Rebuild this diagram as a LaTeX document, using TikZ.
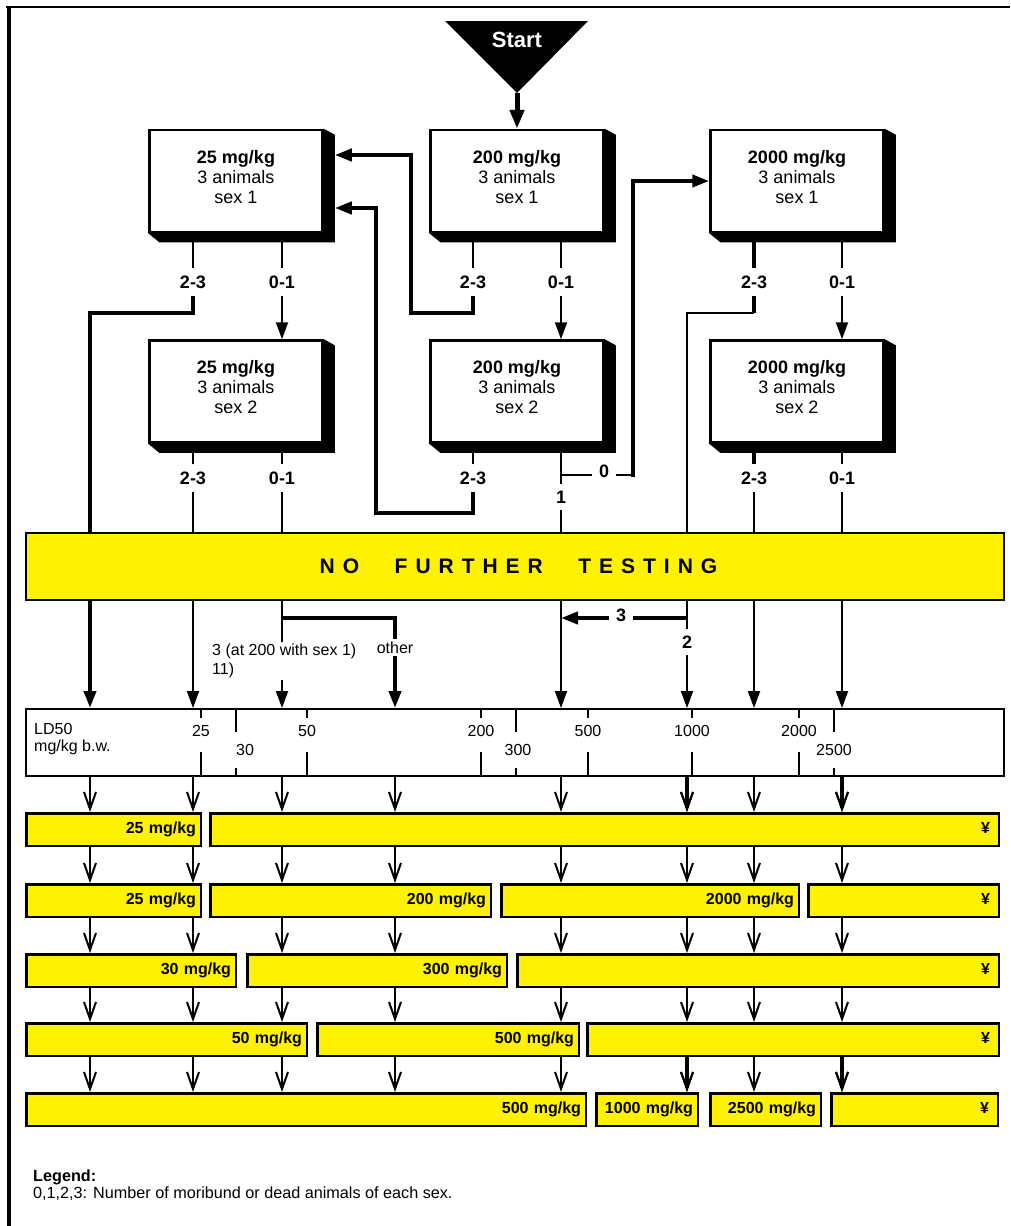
\documentclass[tikz,border=0pt]{standalone}
\usepackage{fontspec}
\setmainfont{Liberation Sans}
\newfontfamily\spacedfont{Liberation Sans}[LetterSpace=38]
\usepackage{tikz}
\usetikzlibrary{arrows.meta,positioning,calc,backgrounds}

\begin{document}
\begin{tikzpicture}[x=1pt,y=-1pt,
  dose/.style={draw,fill=white,line width=2.5pt,minimum width=173pt,minimum height=102pt,
    inner sep=0pt,align=center,text depth=9pt,font=\fontsize{18}{20}\selectfont},
  tally/.style={inner sep=7pt,font=\bfseries\fontsize{18}{20}\selectfont},
  note/.style={inner sep=2pt,font=\fontsize{16}{19}\selectfont},
  outcome/.style={draw,fill=yellow,line width=2.5pt,minimum height=32.5pt,inner sep=0pt,
    align=right,text height=12pt,text depth=3.5pt,font=\bfseries\fontsize{16}{18}\selectfont},
  link/.style={line width=2pt},
  heavy/.style={line width=4pt},
  arrowin/.style={-{Triangle[length=17pt,width=12pt]}},
  outarrow/.style={line width=2pt,-{Straight Barb[length=17pt,width=12pt,line width=2pt]}}]

% Frame
\useasboundingbox (0,0) rectangle (1011,1226);
\draw[line width=2pt] (6,7) -- (1010,7);
\draw[line width=3.5pt] (9,6) -- (9,1226);

% Start
\fill (445,21) -- (588,21) -- (517,93) -- cycle;
\node[text=white,font=\bfseries\fontsize{22}{24}\selectfont] (start) at (517,40) {Start};
\coordinate (apex) at (517,93);

% Dose groups, sex 1 and sex 2
\node[dose] (low1) at (236,181) {\textbf{25 mg/kg}\\3 animals\\sex 1};
\node[dose] (mid1) at (517,181) {\textbf{200 mg/kg}\\3 animals\\sex 1};
\node[dose] (high1) at (797,181) {\textbf{2000 mg/kg}\\3 animals\\sex 1};
\node[dose] (low2) at (236,391.5) {\textbf{25 mg/kg}\\3 animals\\sex 2};
\node[dose] (mid2) at (517,391.5) {\textbf{200 mg/kg}\\3 animals\\sex 2};
\node[dose] (high2) at (797,391.5) {\textbf{2000 mg/kg}\\3 animals\\sex 2};
\begin{scope}[on background layer]
\foreach \b in {low1,mid1,high1,low2,mid2,high2}
  \fill (\b.north east) -- ++(11,6) -- ($(\b.south east)+(11,9)$)
    -- ($(\b.south west)+(11,9)$) -- (\b.south west) -- cycle;
\end{scope}

% Number of dead animals
\node[tally] (low1many) at (193,282) {2-3};
\node[tally] (low1few) at (282,282) {0-1};
\node[tally] (mid1many) at (473,282) {2-3};
\node[tally] (mid1few) at (561,282) {0-1};
\node[tally] (high1many) at (754,282) {2-3};
\node[tally] (high1few) at (842,282) {0-1};
\node[tally] (low2many) at (193,478) {2-3};
\node[tally] (low2few) at (282,478) {0-1};
\node[tally] (mid2many) at (473,478) {2-3};
\node[tally] (high2many) at (754,478) {2-3};
\node[tally] (high2few) at (842,478) {0-1};
\node[tally] (zero) at (604,471) {0};
\node[tally] (one) at (561,497) {1};
\node[tally] (three) at (621,615) {3};
\node[tally] (two) at (687,642) {2};
\node[note] (other) at (395,647.5) {other};

% LD50 scale
\node[draw,line width=2pt,minimum width=978pt,minimum height=67pt] (ld) at (515,742.5) {};
\node[anchor=north west,align=left,inner sep=0pt,font=\fontsize{16}{17}\selectfont] (ldname) at (34,723.5) {LD50\\mg/kg b.w.};
\foreach \x/\v in {201/25, 307/50, 481/200, 588/500, 692/1000, 799/2000} {
  \draw[line width=2.5pt] (\x,708) -- (\x,718);
  \draw[line width=2.5pt] (\x,752) -- (\x,777);
  \node[note,anchor=base] (ld\v) at (\x,736) {\v};
}
\foreach \x/\lx/\v in {236/245/30, 516/518/300, 834/834/2500} {
  \draw[line width=2.5pt] (\x,708) -- (\x,732);
  \draw[line width=2.5pt] (\x,768) -- (\x,777);
  \node[note,anchor=base] (ld\v) at (\lx,755) {\v};
}
\foreach \i/\x in {1/90,2/193,3/282,4/395,5/561,6/687,7/754,8/842}
  \coordinate (col\i) at (\x,777);

% Classification rows
\node[outcome,minimum width=174.5pt,text width=165pt] (ra1) at (113.5,829.5) {25 mg/kg};
\node[outcome,minimum width=788.5pt,text width=771pt] (ra2) at (604.5,829.5) {¥};
\node[outcome,minimum width=174.5pt,text width=165pt] (rb1) at (113.5,900.5) {25 mg/kg};
\node[outcome,minimum width=280.5pt,text width=271pt] (rb2) at (350.5,900.5) {200 mg/kg};
\node[outcome,minimum width=297.5pt,text width=288pt] (rb3) at (650,900.5) {2000 mg/kg};
\node[outcome,minimum width=190.5pt,text width=173pt] (rb4) at (903.5,900.5) {¥};
\node[outcome,minimum width=209.5pt,text width=200pt] (rc1) at (131,970.5) {30 mg/kg};
\node[outcome,minimum width=259.5pt,text width=250pt] (rc2) at (377,970.5) {300 mg/kg};
\node[outcome,minimum width=481.5pt,text width=464pt] (rc3) at (758,970.5) {¥};
\node[outcome,minimum width=280.5pt,text width=271pt] (rd1) at (166.5,1039.5) {50 mg/kg};
\node[outcome,minimum width=261.5pt,text width=252pt] (rd2) at (448,1039.5) {500 mg/kg};
\node[outcome,minimum width=411.5pt,text width=394pt] (rd3) at (793,1039.5) {¥};
\node[outcome,minimum width=559.5pt,text width=550pt] (re1) at (306,1109.5) {500 mg/kg};
\node[outcome,minimum width=101.5pt,text width=92pt] (re2) at (647,1109.5) {1000 mg/kg};
\node[outcome,minimum width=110.5pt,text width=101pt] (re3) at (765.5,1109.5) {2500 mg/kg};
\node[outcome,minimum width=166.5pt,text width=149pt] (re4) at (914.5,1109.5) {¥};

% Start arrow
\draw[line width=5pt,-{Triangle[length=19pt,width=14pt]}] (apex) -- (mid1);

% Stubs under the boxes
\foreach \b/\l in {low1/low1many,low1/low1few,mid1/mid1many,mid1/mid1few,high1/high1few,
    low2/low2many,low2/low2few,mid2/mid2many,mid2/one,high2/high2few}
  \draw[link] (\b.south -| \l) -- (\l);
\foreach \b/\l in {high1/high1many,high2/high2many}
  \draw[heavy] (\b.south -| \l) -- (\l);

% 0-1: on to sex 2
\foreach \a/\b in {low1few/low2,mid1few/mid2,high1few/high2}
  \draw[link,arrowin] (\a) -- (\a |- \b.north);

% 2-3 at 25 mg/kg
\draw[heavy,arrowin] (low1many) -- (193,313) -- (90,313) -- (col1 |- ld.north);

% 2-3 at 200 mg/kg: back to 25 mg/kg
\draw[heavy,arrowin] (mid1many) -- (473,313) -- (411,313) -- (411,155)
  -- ([xshift=11pt,yshift=26pt]low1.east);
\draw[heavy,arrowin] (mid2many) -- (473,513) -- (376,513) -- (376,208)
  -- ([xshift=11pt,yshift=-27pt]low1.east);

% 0 and 1 at 200 mg/kg
\coordinate (split0) at (561,475);
\draw[link] (split0) -- (split0 -| zero.west);
\draw[link] (zero.east |- split0) -- (633,475);
\draw[heavy,arrowin] (633,477) -- (633,181) -- (high1.west);
\draw[link,arrowin] (one) -- (one |- ld.north);

% 2-3 at 2000 mg/kg
\draw[heavy] (high1many) -- (754,313);
\draw[link] (754,313) -- (687,313) -- (two);
\draw[link,arrowin] (two) -- (two |- ld.north);
\coordinate (split3) at (687,618);
\draw[heavy] (split3) -- (split3 -| three.east);
\draw[heavy,arrowin] (split3 -| three.west) -- (split3 -| one);

% sex 2 down to the scale
\draw[link,arrowin] (low2many) -- (low2many |- ld.north);
\draw[link,arrowin] (high2many) -- (high2many |- ld.north);
\draw[link,arrowin] (high2few) -- (high2few |- ld.north);
\coordinate (split1) at (282,618);
\draw[link] (low2few) -- (split1);
\draw[heavy] (split1) -- (395,618) -- (other);
\draw[heavy,arrowin] (other) -- (other |- ld.north);
\draw[link,arrowin] (split1) -- (split1 |- ld.north);
\node[note,fill=white,anchor=north west,align=left] (sexone) at (210,642) {3 (at 200 with sex 1)\\11)};

% No further testing
\node[draw,fill=yellow,line width=2pt,minimum width=978pt,minimum height=67pt,
  font=\spacedfont\bfseries\fontsize{21}{24}\selectfont] (nft) at (515,566.5)
  {\hspace{7pt}NO\hspace{35.5pt}FURTHER\hspace{35.5pt}TESTING};

% Arrows through the classification rows
\foreach \top/\bot in {ld/ra1,ra1/rb1,rb1/rc1,rc1/rd1,rd1/re1}
  \foreach \i in {1,...,8}
    \draw[outarrow] (col\i |- \top.south) -- (col\i |- \bot.north);
\foreach \top/\bot in {ld/ra1,rd1/re1}
  \foreach \i in {6,8}
    \draw[outarrow,line width=4pt] (col\i |- \top.south) -- (col\i |- \bot.north);

% Legend
\node[anchor=north west,align=left,inner sep=0pt,font=\fontsize{16.2}{17}\selectfont] (legend) at (33,1170)
  {\textbf{Legend:}\\0,1,2,3: Number of moribund or dead animals of each sex.};
\end{tikzpicture}
\end{document}
